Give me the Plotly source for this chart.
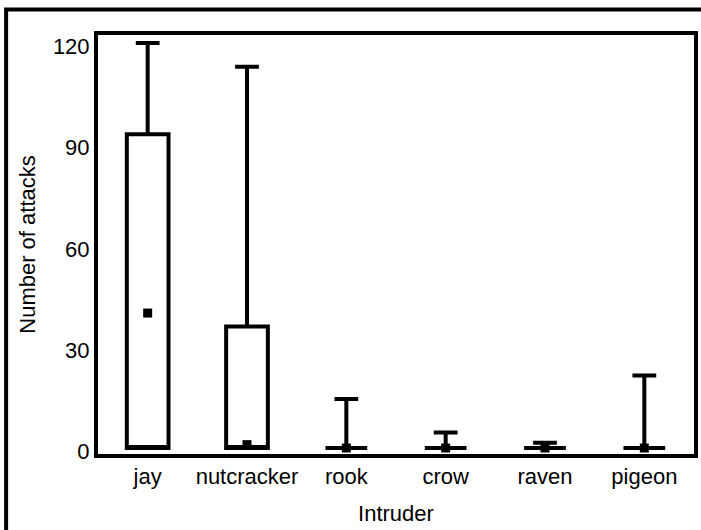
import plotly.graph_objects as go

categories = ["jay", "nutcracker", "rook", "crow", "raven", "pigeon"]
q1_values = [1, 1, 1, 1, 1, 1]
q3_values = [94, 37, 1, 1, 1, 1]
median_values = [41, 2, 1, 1, 1, 1]
lower_values = [1, 1, 1, 1, 1, 1]
upper_values = [121, 114, 15.5, 5.6, 2.6, 22.5]
y_ticks = [0, 30, 60, 90, 120]

FONT = "Liberation Sans, Arial, sans-serif"

fig = go.Figure()
fig.add_trace(go.Box(
    x=categories,
    q1=q1_values,
    q3=q3_values,
    median=q1_values,
    lowerfence=lower_values,
    upperfence=upper_values,
    width=0.42,
    whiskerwidth=0.57,
    line=dict(color="black", width=4),
    fillcolor="white",
    boxpoints=False,
    showlegend=False,
))
fig.add_trace(go.Scatter(
    x=categories,
    y=median_values,
    mode="markers",
    marker=dict(symbol="square", size=9, color="black", line=dict(width=0)),
    showlegend=False,
))

L, R, T, B = 98, 698, 35, 454
W, H = 701, 530
pw, ph = R - L, B - T

fig.add_shape(
    type="rect", xref="paper", yref="paper",
    x0=(5.5 - L) / pw, x1=(720 - L) / pw,
    y0=(B - 560) / ph, y1=(B - 9.5) / ph,
    line=dict(color="black", width=4), fillcolor="rgba(0,0,0,0)",
    layer="above",
)

fig.update_layout(
    width=W, height=H,
    margin=dict(l=L, r=W - R, t=T, b=H - B, pad=0),
    paper_bgcolor="white", plot_bgcolor="white",
    font=dict(family=FONT, size=22, color="black"),
    xaxis=dict(
        type="category", range=[-0.5, 5.5],
        showgrid=False, zeroline=False,
        showline=True, mirror=True, linewidth=4, linecolor="black",
        ticks="", tickfont=dict(size=22),
        title=dict(text="Intruder", font=dict(size=22), standoff=18),
    ),
    yaxis=dict(
        range=[-0.77, 123.4],
        tickvals=y_ticks, ticktext=[str(v) for v in y_ticks],
        showgrid=False, zeroline=False,
        showline=True, mirror=True, linewidth=4, linecolor="black",
        ticks="", tickfont=dict(size=22),
        title=dict(text="Number of attacks", font=dict(size=22), standoff=12),
    ),
)

fig.write_html("out.html")
